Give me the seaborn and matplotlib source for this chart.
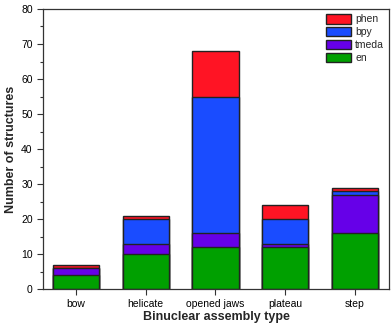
import numpy as np
import pandas as pd
import matplotlib
matplotlib.use('Agg')
import matplotlib.pyplot as plt
import seaborn as sns
from matplotlib.patches import Patch
from matplotlib.ticker import MultipleLocator

types = ['bow', 'helicate', 'opened jaws', 'plateau', 'step']
en    = [4, 10, 12, 12, 16]
tmeda = [2, 3, 4, 1, 11]
bpy   = [0, 7, 39, 7, 1]
phen  = [1, 1, 13, 4, 1]

series = ['en', 'tmeda', 'bpy', 'phen']
colors = {'en': '#00A000', 'tmeda': '#6600E8', 'bpy': '#1A4CFF', 'phen': '#FF1424'}

df = pd.DataFrame({'type': types, 'en': en, 'tmeda': tmeda, 'bpy': bpy, 'phen': phen})
cum = df[series].cumsum(axis=1)
cum['type'] = df['type']

sns.set_style('ticks')
plt.rcParams['font.family'] = ['Liberation Sans', 'DejaVu Sans']

fig, ax = plt.subplots(figsize=(3.92, 3.33), dpi=100)
# draw tallest stack first, then cover it with the lower ones
for s in series[::-1]:
    sns.barplot(data=cum, x='type', y=s, color=colors[s], saturation=1,
                width=0.66, edgecolor='#222222', linewidth=1.0, ax=ax)

ax.set_xlim(-0.47, 4.49)
ax.set_ylim(0, 80)
ax.yaxis.set_major_locator(MultipleLocator(10))
ax.yaxis.set_minor_locator(MultipleLocator(5))
ax.tick_params(axis='both', labelsize=7.5, length=4, width=0.8, colors='#333333', labelcolor='black')
ax.tick_params(axis='y', which='minor', length=2.5, width=0.8, colors='#333333')
for sp in ax.spines.values():
    sp.set_color('#333333')
    sp.set_linewidth(0.9)

ax.set_xlabel('Binuclear assembly type', fontsize=9, fontweight='bold', labelpad=1)
ax.set_ylabel('Number of structures', fontsize=9, fontweight='bold', labelpad=3)

handles = [Patch(facecolor=colors[s], edgecolor='#222222', label=s) for s in series[::-1]]
ax.legend(handles=handles, loc='upper right', frameon=False, fontsize=7.5,
          handlelength=2.4, handleheight=1.0, handletextpad=0.4, labelspacing=0.25,
          borderaxespad=0.1)

fig.subplots_adjust(left=0.11, right=0.993, top=0.973, bottom=0.132)
plt.savefig('out.png', dpi=100)
plt.close()
